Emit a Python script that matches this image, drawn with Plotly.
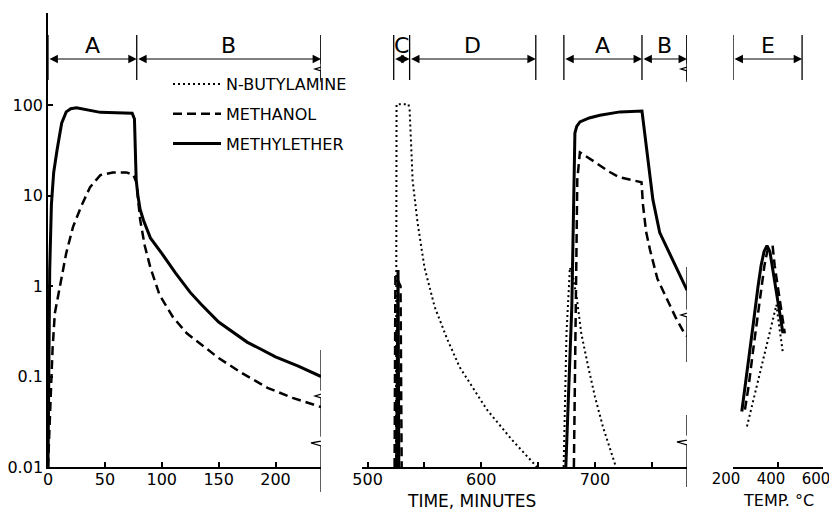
import plotly.graph_objects as go

# ---------------- data ----------------
# Panel 1: time 0-240 min
ether_t1 = [0, 0.5, 1.5, 3, 5, 8, 12, 16, 20, 25, 35, 46, 60, 72, 74, 76, 77, 77.5, 79, 81, 84, 90,
            100, 112, 125, 135, 150, 175, 200, 220, 240]
ether_v1 = [0.01, 0.1, 1.5, 8, 18, 32, 63, 84, 91, 93, 88, 83, 82, 82, 81, 70, 30, 15, 10, 7, 5.3, 3.4,
            2.3, 1.4, 0.85, 0.62, 0.4, 0.24, 0.165, 0.13, 0.1]
meth_t1 = [0, 2, 4, 6, 9, 12, 16, 22, 29, 37, 46, 57, 69, 75, 77, 78, 79.5, 81, 85, 90, 98, 110, 122,
           150, 170, 193, 215, 240]
meth_v1 = [0.01, 0.06, 0.2, 0.5, 0.8, 1.2, 2.3, 4.5, 7.5, 12.4, 16.8, 18, 18, 17, 15, 13.7, 8.3, 5.4,
           2.8, 1.6, 0.8, 0.45, 0.3, 0.16, 0.11, 0.075, 0.058, 0.046]

# Panel 2: time 495-781 min (None separates the C and A/B episodes)
but_t2 = [525, 525.5, 536, 537, 538.8, 539.6, 544, 550, 559, 570, 581, 593, 605, 627, 649, None,
          672.5, 675, 678, 681, 684, 688, 694, 700, 707, 713, 718.5]
but_v2 = [0.01, 102, 102, 88, 26.6, 14.8, 5.0, 1.62, 0.59, 0.26, 0.127, 0.074, 0.043, 0.02, 0.01, None,
          0.01, 0.3, 1.6, 1.2, 0.75, 0.3, 0.13, 0.06, 0.028, 0.016, 0.01]
meth_t2 = [523.8, 524.5, 529, 530, None, 681.5, 683, 684.5, 686.8, 692, 701, 712, 721, 741, 741.5,
           742.3, 745, 748.5, 755, 763.4, 771, 779.3, 781]
meth_v2 = [0.01, 1.3, 1.0, 0.01, None, 0.01, 1, 15, 30, 27, 23, 18.5, 16, 14, 11, 7.9, 4, 2.5, 1.2,
           0.7, 0.45, 0.29, 0.28]
ether_t2 = [525.5, 526.2, 526.8, 527.5, None, 674.4, 679.7, 682.4, 684, 686.8, 695, 704.4, 713, 722,
            741.4, 743, 746, 751, 757, 763, 769, 775, 781]
ether_v2 = [0.01, 1.5, 1.5, 0.01, None, 0.01, 0.6, 49, 58, 65, 72, 77, 81, 84, 86, 60, 30, 9, 3.9,
            2.7, 1.9, 1.3, 0.9]

# Panel 3: temperature 200-600 C
but_T = [262, 280, 300, 320, 340, 360, 380, 387, 393, 400, 410, 422]
but_vT = [0.028, 0.043, 0.069, 0.112, 0.18, 0.29, 0.47, 0.58, 0.62, 0.45, 0.28, 0.18]
meth_T = [253, 270, 290, 310, 325, 340, 352, 365, 376, 385, 400, 415, 430]
meth_vT = [0.043, 0.08, 0.2, 0.5, 0.98, 1.7, 2.4, 2.7, 2.8, 1.7, 0.95, 0.51, 0.3]
ether_T = [239, 255, 272, 290, 311, 325, 338, 351, 364, 380, 400, 422]
ether_vT = [0.041, 0.079, 0.17, 0.38, 0.98, 1.7, 2.4, 2.8, 2.4, 1.35, 0.66, 0.3]

# Phase brackets (label, start, end) per panel
phases1 = [("A", 0, 78), ("B", 78, 240)]
phases2 = [("C", 523, 537), ("D", 537, 648), ("A", 672.7, 741.4), ("B", 741.4, 781)]
phases3 = [("E", 200, 507)]

y_tickvals = [0.01, 0.1, 1, 10, 100]
y_ticktext = ["0.01", "0.1", "1", "10", "100"]
x1_ticks = [0, 50, 100, 150, 200]
x2_ticks = [500, 550, 600, 650, 700, 750]
x2_text = ["500", "", "600", "", "700", ""]
x3_ticks = [200, 400, 600]

# ---------------- layout geometry ----------------
# the page body has an 8px margin, so the figure is drawn 8px right/down
OFF = 8
W, H = 821, 502
PX0, PX1, PY0, PY1 = 48, 823, 13, 467          # plot area on screen
ML, MR, MT = PX0 - OFF, W - (PX1 - OFF), PY0 - OFF
MB = H - (PY1 - OFF)
PW, PH = PX1 - PX0, PY1 - PY0
dom1, rng1 = [0.0, 0.3523], [0, 240]
dom2, rng2 = [0.405, 0.8245], [495, 781]
dom3, rng3 = [0.8839, 1.0], [200, 600]
YR = [-2, 3.017]
FONT = "DejaVu Sans"


def yp(px):
    """screen pixel row -> paper y"""
    return (PY1 - px) / PH


def xp(px):
    """screen pixel column -> paper x"""
    return (px - PX0) / PW


def upx(dom, rng):
    """data units per pixel along x"""
    return (rng[1] - rng[0]) / (PW * (dom[1] - dom[0]))


styles = {
    "N-BUTYLAMINE": dict(color="black", width=2, dash="2px,3px"),
    "METHANOL": dict(color="black", width=2.5, dash="9px,5px"),
    "METHYLETHER": dict(color="black", width=3),
}

fig = go.Figure()
series = [
    ("N-BUTYLAMINE", [(but_t2, but_v2, "x2"), (but_T, but_vT, "x3")]),
    ("METHANOL", [(meth_t1, meth_v1, "x"), (meth_t2, meth_v2, "x2"), (meth_T, meth_vT, "x3")]),
    ("METHYLETHER", [(ether_t1, ether_v1, "x"), (ether_t2, ether_v2, "x2"), (ether_T, ether_vT, "x3")]),
]
for name, parts in series:
    first = True
    for xs, ys, xa in parts:
        fig.add_trace(go.Scatter(x=xs, y=ys, xaxis=xa, yaxis="y", mode="lines", name=name,
                                 legendgroup=name, showlegend=first, line=styles[name],
                                 connectgaps=False, hoverinfo="skip"))
        first = False

axc = dict(showline=True, linecolor="black", linewidth=1.5, ticks="inside", ticklen=5,
           tickwidth=1.5, tickcolor="black", showgrid=False, zeroline=False,
           anchor="y", fixedrange=True, ticklabeloverflow="allow", ticklabelstandoff=-3)
tf16 = dict(size=16, color="black", family=FONT)

shapes, annotations = [], []

# phase brackets
for phases, xa, dom, rng in [(phases1, "x", dom1, rng1), (phases2, "x2", dom2, rng2),
                             (phases3, "x3", dom3, rng3)]:
    bounds = sorted({p[1] for p in phases} | {p[2] for p in phases})
    for b in bounds:
        shapes.append(dict(type="line", xref=xa, yref="paper", x0=b, x1=b, y0=yp(35), y1=yp(80),
                           line=dict(color="black", width=1.3)))
    for lab, a, b in phases:
        annotations.append(dict(x=b, y=yp(59), xref=xa, yref="paper", ax=a, ay=0, axref=xa,
                                ayref="pixel", text="", showarrow=True, arrowhead=2,
                                startarrowhead=2, arrowside="end+start", arrowsize=1.4,
                                startarrowsize=1.4, arrowwidth=1.2, arrowcolor="black"))
        annotations.append(dict(x=(a + b) / 2, y=yp(45), xref=xa, yref="paper", text=lab,
                                xanchor="center", yanchor="middle", showarrow=False,
                                font=dict(size=22, color="black", family=FONT)))


# break lines with zig-zags
def break_path(xv, xa, dom, rng, y_top, y_bot, zigs):
    u = upx(dom, rng)
    pts = [(0, y_top)]
    for yz, big in zigs:
        if big:
            offs = [(0, 0), (12, 3), (-10, 7), (0, 10)]
        else:
            offs = [(0, 0), (7, 2), (-6, 6), (0, 8)]
        pts += [(dx, yz + dy) for dx, dy in offs]
    pts.append((0, y_bot))
    d = "M" + " L".join(f"{xv + dx * u},{yp(py)}" for dx, py in pts)
    return dict(type="path", xref=xa, yref="paper", path=d, line=dict(color="black", width=1.3))


shapes.append(break_path(240, "x", dom1, rng1, 35, 82, [(63, False)]))
shapes.append(break_path(240, "x", dom1, rng1, 350, 492, [(390, False), (436, True)]))
shapes.append(break_path(781, "x2", dom2, rng2, 35, 82, [(63, False)]))
shapes.append(break_path(781, "x2", dom2, rng2, 267, 362, [(309, False)]))
shapes.append(break_path(781, "x2", dom2, rng2, 415, 487, [(435, True)]))

annotations.append(dict(x=xp(471), y=yp(501), xref="paper", yref="paper",
                        xanchor="center", yanchor="middle",
                        text="TIME, MINUTES", showarrow=False,
                        font=dict(size=17, color="black", family=FONT)))
annotations.append(dict(x=xp(778), y=yp(501), xref="paper", yref="paper",
                        xanchor="center", yanchor="middle",
                        text="TEMP. °C", showarrow=False,
                        font=dict(size=16, color="black", family=FONT)))

fig.update_layout(
    width=W, height=H, margin=dict(l=ML, r=MR, t=MT, b=MB, autoexpand=False),
    paper_bgcolor="white", plot_bgcolor="white",
    font=dict(family=FONT, color="black", size=16),
    xaxis=dict(domain=dom1, range=rng1, tickvals=x1_ticks, tickfont=tf16, **axc),
    xaxis2=dict(domain=dom2, range=rng2, tickvals=x2_ticks, ticktext=x2_text, tickfont=tf16, **axc),
    xaxis3=dict(domain=dom3, range=rng3, tickvals=x3_ticks, ticklabelshift=-7,
                tickfont=dict(size=15, color="black", family=FONT), **axc),
    yaxis=dict(type="log", range=YR, tickvals=y_tickvals, ticktext=y_ticktext, anchor="x",
               showline=True, linecolor="black", linewidth=1.5, ticks="inside", ticklen=5,
               tickwidth=1.5, tickcolor="black", showgrid=False, zeroline=False,
               tickfont=tf16, fixedrange=True),
    legend=dict(x=xp(168), y=yp(67), xanchor="left", yanchor="top",
                font=dict(size=16, color="black", family=FONT), bgcolor="rgba(0,0,0,0)",
                borderwidth=0, tracegroupgap=6, itemwidth=48),
    shapes=shapes, annotations=annotations, showlegend=True,
)

fig.write_html("out.html")
